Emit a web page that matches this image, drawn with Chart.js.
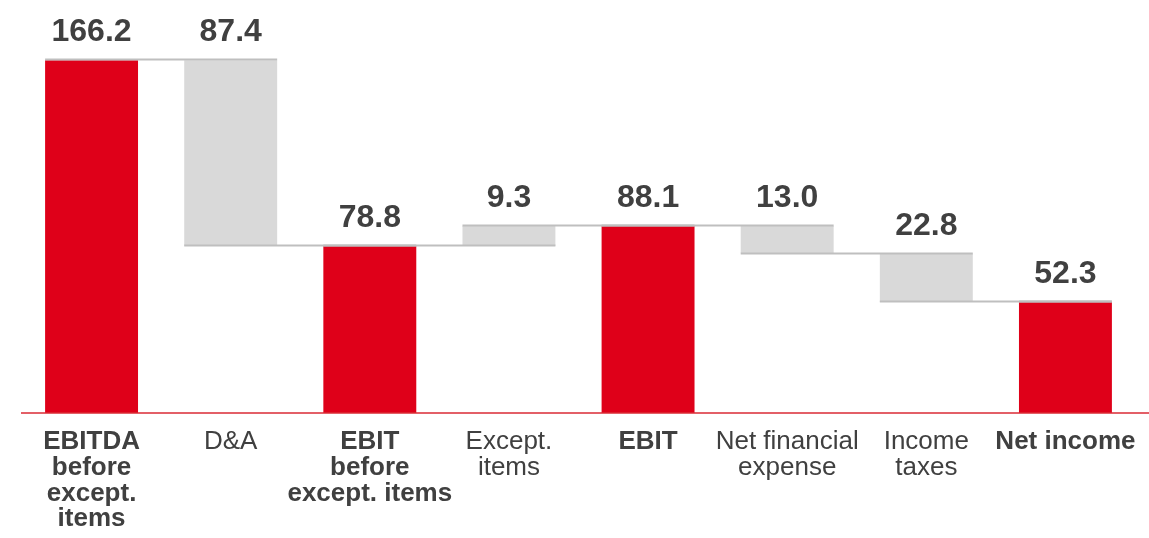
<!DOCTYPE html>
<html>
<head>
<meta charset="utf-8">
<script src="https://cdn.jsdelivr.net/npm/chart.js@4"></script>
<style>
  html, body { margin: 0; padding: 0; background: #fff; }
  #wrap { width: 1149px; height: 538px; position: relative; }
</style>
</head>
<body>
<div id="wrap"><canvas id="bridge"></canvas></div>
<script>
// datos del puente EBITDA -> Net income
const categorias = [
  ["EBITDA", "before", "except.", "items"],
  "D&A",
  ["EBIT", "before", "except. items"],
  ["Except.", "items"],
  "EBIT",
  ["Net financial", "expense"],
  ["Income", "taxes"],
  "Net income"
];
const valores = [166.2, -87.4, 78.8, 9.3, 88.1, -13.0, -22.8, 52.3];
const esTotal = [true, false, true, false, true, false, false, true];

const ROJO = "#DF0019";
const GRIS = "#D9D9D9";
const LINEA = "#BFBFBF";
const TEXTO = "#404040";
const FUENTE = "'Liberation Sans', Arial, sans-serif";

// rangos flotantes a partir del acumulado
let acumulado = 0;
const rangos = valores.map((v, i) => {
  if (esTotal[i]) { acumulado = v; return [0, v]; }
  const ini = acumulado;
  acumulado += v;
  return [Math.min(ini, acumulado), Math.max(ini, acumulado)];
});
const niveles = rangos.map((r, i) => esTotal[i] ? r[1] : (valores[i] < 0 ? r[0] : r[1]));

// líneas de unión, eje rojo y etiquetas de valor
const puentePlugin = {
  id: "puente",
  afterDatasetsDraw(chart) {
    const c = chart.ctx;
    const y = chart.scales.y;
    const barras = chart.getDatasetMeta(0).data;

    c.save();
    c.strokeStyle = LINEA;
    c.lineWidth = 2;
    for (let i = 0; i < barras.length; i++) {
      const a = barras[i];
      const b = barras[i + 1] || a; // el último solo cubre su propia barra
      const py = Math.round(y.getPixelForValue(niveles[i])) - 0.5;
      c.beginPath();
      c.moveTo(a.x - a.width / 2, py);
      c.lineTo(b.x + b.width / 2, py);
      c.stroke();
    }

    // eje
    const y0 = y.getPixelForValue(0);
    c.strokeStyle = "#DA2A35";
    c.lineWidth = 1.5;
    c.beginPath();
    c.moveTo(chart.chartArea.left - 1, y0);
    c.lineTo(chart.width, y0);
    c.stroke();

    // valores
    c.fillStyle = TEXTO;
    c.font = "bold 32px " + FUENTE;
    c.textAlign = "center";
    c.textBaseline = "alphabetic";
    barras.forEach((bar, i) => {
      const top = y.getPixelForValue(rangos[i][1]);
      c.fillText(Math.abs(valores[i]).toFixed(1), bar.x, top - 19);
    });
    c.restore();
  }
};

new Chart(document.getElementById("bridge"), {
  type: "bar",
  data: {
    labels: categorias,
    datasets: [{
      data: rangos,
      backgroundColor: esTotal.map(t => t ? ROJO : GRIS),
      borderWidth: 0,
      barPercentage: 0.668,
      categoryPercentage: 1
    }]
  },
  options: {
    responsive: true,
    maintainAspectRatio: false,
    animation: false,
    layout: { padding: { left: 22, right: 14, top: 31, bottom: 0 } },
    plugins: { legend: { display: false }, tooltip: { enabled: false } },
    scales: {
      x: {
        grid: { display: false, drawTicks: false },
        border: { display: false },
        afterFit: (scale) => {
          scale.height = 125;
          scale.paddingLeft = 0;
          scale.paddingRight = 0;
        },
        ticks: {
          autoSkip: false,
          maxRotation: 0,
          minRotation: 0,
          padding: 16,
          color: TEXTO,
          font: (ctx) => ({
            family: FUENTE,
            size: 26,
            lineHeight: 0.99,
            weight: esTotal[ctx.index] ? "bold" : "normal"
          })
        }
      },
      y: {
        display: false,
        min: 0,
        max: 180
      }
    }
  },
  plugins: [puentePlugin]
});
</script>
</body>
</html>
